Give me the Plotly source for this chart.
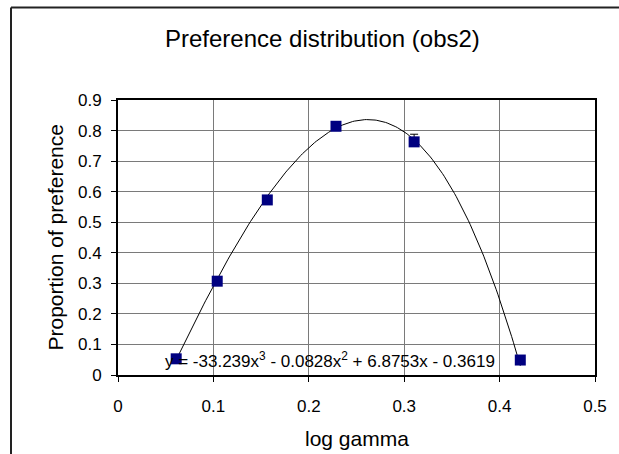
import numpy as np
import plotly.graph_objects as go

# Data
log_gamma = [0.061, 0.104, 0.1565, 0.2285, 0.3104, 0.4217]
proportion = [0.053, 0.307, 0.573, 0.814, 0.763, 0.049]
err_plus = [0, 0, 0, 0, 0.025, 0]
trend_coeffs = [-33.239, -0.0828, 6.8753, -0.3619]  # cubic trendline y = a x^3 + b x^2 + c x + d
x_ticks = [0, 0.1, 0.2, 0.3, 0.4, 0.5]
y_ticks = [0, 0.1, 0.2, 0.3, 0.4, 0.5, 0.6, 0.7, 0.8, 0.9]
title_text = "Preference distribution (obs2)"
x_title = "log gamma"
y_title = "Proportion of preference"

W, H = 619, 454
L, R, T, B = 118, 24, 100, 79
pw, ph = W - L - R, H - T - B

FONT = "Liberation Sans, Arial, sans-serif"

xs = np.linspace(min(log_gamma), max(log_gamma), 200)
ys = np.polyval(trend_coeffs, xs)

a, b, c, d = trend_coeffs
eq = (f"y = {a}x<sup>3</sup> - {abs(b)}x<sup>2</sup> + {c}x - {abs(d)}")

fig = go.Figure()
fig.add_trace(go.Scatter(x=xs, y=ys, mode="lines",
                         line=dict(color="black", width=1), hoverinfo="skip",
                         showlegend=False))
fig.add_trace(go.Scatter(x=log_gamma, y=proportion, mode="markers",
                         marker=dict(symbol="square", size=11, color="#000080",
                                     line=dict(width=0)),
                         error_y=dict(type="data", array=err_plus,
                                      arrayminus=[0]*len(err_plus), symmetric=False,
                                      color="black", thickness=1, width=4),
                         showlegend=False))

axis_common = dict(showline=True, linecolor="black", linewidth=2, mirror=True,
                   showgrid=True, gridcolor="#7a7a7a", gridwidth=1,
                   ticks="outside", ticklen=5, tickcolor="black", tickwidth=1,
                   zeroline=False, tickfont=dict(family=FONT, size=17, color="black"))

fig.update_xaxes(range=[0, 0.5], tickvals=x_ticks,
                 ticktext=[f"{v:g}" for v in x_ticks], ticklabelstandoff=10,
                 **axis_common)
fig.update_yaxes(range=[0, 0.9], tickvals=y_ticks,
                 ticktext=[f"{v:g}" for v in y_ticks], ticklabelstandoff=6,
                 **axis_common)

annotations = [
    dict(text=title_text, xref="paper", yref="paper",
         x=(322 - L) / pw, y=(H - B - 39) / ph, xanchor="center", yanchor="middle",
         showarrow=False, font=dict(family=FONT, size=24, color="black")),
    dict(text=x_title, xref="paper", yref="paper",
         x=0.5, y=(H - B - 438) / ph, xanchor="center", yanchor="middle",
         showarrow=False, font=dict(family=FONT, size=21, color="black")),
    dict(text=y_title, xref="paper", yref="paper", textangle=-90,
         x=(55 - L) / pw, y=0.5, xanchor="center", yanchor="middle",
         showarrow=False, font=dict(family=FONT, size=21, color="black")),
    dict(text=eq, xref="x", yref="y", x=0.047, y=0.05,
         xanchor="left", yanchor="middle", showarrow=False,
         font=dict(family=FONT, size=17, color="black")),
]

# Chart-area border: left and top edges only are visible in the reference
shapes = [
    dict(type="line", xref="paper", yref="paper",
         x0=(11 - L) / pw, x1=(11 - L) / pw, y0=(H - B - 470) / ph, y1=(H - B - 7.5) / ph,
         line=dict(color="#222222", width=2), layer="below"),
    dict(type="line", xref="paper", yref="paper",
         x0=(11 - L) / pw, x1=(640 - L) / pw, y0=(H - B - 7.5) / ph, y1=(H - B - 7.5) / ph,
         line=dict(color="#222222", width=2), layer="below"),
]

fig.update_layout(width=W, height=H, autosize=False,
                  margin=dict(l=L, r=R, t=T, b=B, pad=0),
                  paper_bgcolor="white", plot_bgcolor="white",
                  annotations=annotations, shapes=shapes,
                  font=dict(family=FONT, color="black"))

fig.write_html("out.html", config={"displayModeBar": False},
               post_script="document.body.style.margin='0';document.body.style.padding='0';document.body.style.overflow='hidden';")
